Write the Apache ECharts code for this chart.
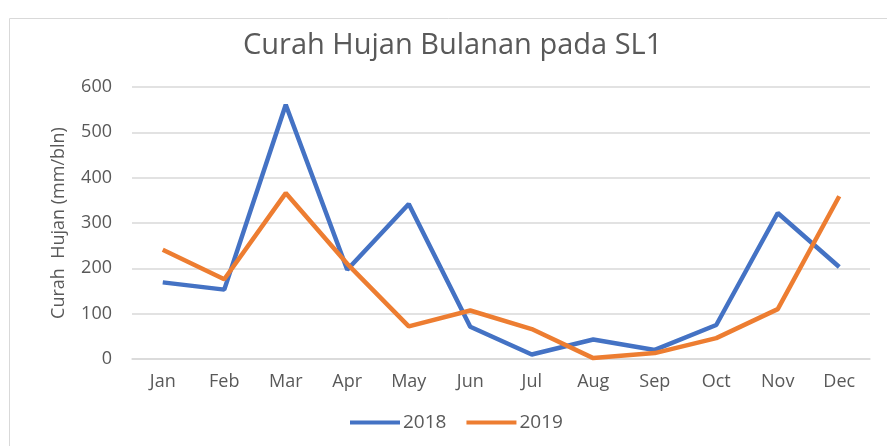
<!DOCTYPE html>
<html>
<head>
<meta charset="utf-8">
<script src="https://cdn.jsdelivr.net/npm/echarts@6/dist/echarts.min.js"></script>
<style>
  html, body { margin: 0; padding: 0; background: #fff; }
  #chart { width: 887px; height: 446px; }
</style>
</head>
<body>
<div id="chart"></div>
<script>
// data
const months = ['Jan', 'Feb', 'Mar', 'Apr', 'May', 'Jun', 'Jul', 'Aug', 'Sep', 'Oct', 'Nov', 'Dec'];
const rain2018 = [169, 153, 561, 197, 342, 71, 10, 43, 20, 75, 322, 203];
const rain2019 = [241, 176, 366, 210, 72, 107, 66, 2, 13, 46, 110, 359];
const yTicks = [0, 100, 200, 300, 400, 500, 600];

const chart = echarts.init(document.getElementById('chart'));

const font = 'Open Sans';
const grey = '#595959';

chart.setOption({
    animation: false,
    title: {
        text: 'Curah Hujan Bulanan pada SL1',
        left: 238,
        top: 26,
        textStyle: { fontFamily: font, fontSize: 29, fontWeight: 'normal', color: grey }
    },
    legend: {
        bottom: 9,
        left: 345,
        itemWidth: 50,
        itemHeight: 4,
        itemGap: 20,
        icon: 'rect',
        textStyle: { fontFamily: font, fontSize: 19, color: grey, padding: [0, 0, 0, -2] },
        data: ['2018', '2019']
    },
    grid: { left: 132, right: 17, top: 87, bottom: 87 },
    xAxis: {
        type: 'category',
        data: months,
        axisLine: { lineStyle: { color: '#d9d9d9', width: 1.5 } },
        axisTick: { show: false },
        axisLabel: { fontFamily: font, fontSize: 18, color: grey, margin: 14 }
    },
    yAxis: {
        type: 'value',
        min: yTicks[0],
        max: yTicks[yTicks.length - 1],
        interval: 100,
        name: 'Curah  Hujan (mm/bln)',
        nameLocation: 'middle',
        nameGap: 64,
        nameTextStyle: { fontFamily: font, fontSize: 18, color: grey },
        axisLine: { show: false },
        axisTick: { show: false },
        axisLabel: { fontFamily: font, fontSize: 18, color: grey, margin: 20 },
        splitLine: { lineStyle: { color: '#d9d9d9', width: 1.5 } }
    },
    graphic: [{
        type: 'rect',
        shape: { x: 9.5, y: 18.5, width: 890, height: 440 },
        style: { fill: 'none', stroke: '#d9d9d9', lineWidth: 1 },
        silent: true
    }],
    series: [
        {
            name: '2018',
            type: 'line',
            data: rain2018,
            showSymbol: false,
            lineStyle: { color: '#4472C4', width: 4.5 },
            itemStyle: { color: '#4472C4' }
        },
        {
            name: '2019',
            type: 'line',
            data: rain2019,
            showSymbol: false,
            lineStyle: { color: '#ED7D31', width: 4.5 },
            itemStyle: { color: '#ED7D31' }
        }
    ]
});
</script>
</body>
</html>
